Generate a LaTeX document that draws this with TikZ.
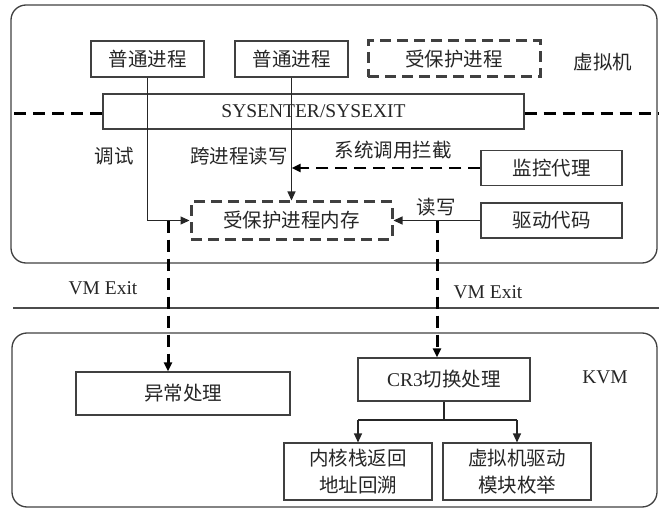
\documentclass[tikz,border=0pt]{standalone}
\usepackage{fontspec}
\setmainfont{Liberation Serif}
\newfontfamily\cjk{Noto Sans CJK SC}
\usetikzlibrary{arrows.meta}
\begin{document}
\begin{tikzpicture}[x=1pt,y=-1pt,
  every node/.style={font=\fontsize{19.5}{27}\selectfont, text=black!85, inner sep=0pt},
  box/.style={draw=black!75, line width=1.1pt, fill=white, align=center},
  dbox/.style={draw=black!75, line width=3pt, dash pattern=on 11pt off 6pt, fill=white},
  thinln/.style={draw=black!85, line width=1.1pt},
  tip/.style={-{Triangle[length=9pt,width=8pt]}},
  tdash/.style={draw=black, line width=3pt, dash pattern=on 12pt off 7pt},
  frame/.style={draw=black!75, line width=1.3pt, rounded corners=15pt}
]
\useasboundingbox (0,0) rectangle (659,508);
% frames
\draw[frame] (11,5) rectangle (657,263);
\draw[frame] (12,333) rectangle (657,507);
\draw[thinln, draw=black!70] (13,308) -- (659,308);

% dashed boundary lines at syscall level
\coordinate (dl) at (14,114);
\coordinate (dr) at (659,114);

% top nodes
\node[box, minimum width=113pt, minimum height=36pt] (p1) at (147.5,59) {\cjk 普通进程};
\node[box, minimum width=113pt, minimum height=36pt] (p2) at (291.5,59) {\cjk 普通进程};
\node[dbox, minimum width=172pt, minimum height=36pt] (pp) at (454,59) {\cjk 受保护进程};
\node (vmlab) at (603,62) {\cjk 虚拟机};

\node[box, minimum width=421pt, minimum height=35pt] (sys) at (313.5,111.5) {SYSENTER/SYSEXIT};
\draw[tdash] (dl) -- (dl -| sys.west);
\draw[tdash] (sys.east |- dr) -- (dr);

\node (dbg) at (114,156) {\cjk 调试};
\node (xrw) at (239,156) {\cjk 跨进程读写};
\node (sci) at (393,150) {\cjk 系统调用拦截};

\node[box, minimum width=141pt, minimum height=35pt] (mon) at (551.5,168) {\cjk 监控代理};
\node[dbox, minimum width=201pt, minimum height=37pt] (mem) at (291.5,220.5) {\cjk 受保护进程内存};
\node[box, minimum width=141pt, minimum height=35pt] (drv) at (551.5,220.5) {\cjk 驱动代码};
\node (rw) at (436,207) {\cjk 读写};

% connectors in VM
\draw[thinln,tip] (p1.south) |- (mem.west);
\draw[thinln,tip] (p2.south) -- (mem.north);
\draw[tdash,line width=2.6pt,tip] (mon.west) -- (p2.south |- mon.west);
\draw[thinln,tip] (drv.west) -- (mem.east);

% KVM nodes
\node[box, minimum width=214pt, minimum height=43pt] (ex) at (183,393.5) {\cjk 异常处理};
\node[box, minimum width=172pt, minimum height=43pt] (cr3) at (444,379.5) {CR3{\cjk 切换处理}};
\node (kvm) at (605,377) {KVM};
\node[box, minimum width=148pt, minimum height=57pt] (kst) at (358,471.5) {\cjk 内核栈返回\\\cjk 地址回溯};
\node[box, minimum width=148pt, minimum height=57pt] (enum) at (517,471.5) {\cjk 虚拟机驱动\\\cjk 模块枚举};

\node (vmx1) at (103,288) {VM Exit};
\node (vmx2) at (488,292) {VM Exit};

% VM exit arrows
\coordinate (l1) at (168,220.5);
\coordinate (r1) at (437,220.5);
\draw[tdash,tip] (l1) -- (l1 |- ex.north);
\draw[tdash,tip] (r1) -- (r1 |- cr3.north);

% tree
\coordinate (t0) at (444,420);
\draw[thinln] (cr3.south) -- (t0);
\draw[thinln] (kst.north |- t0) -- (enum.north |- t0);
\draw[thinln,tip] (kst.north |- t0) -- (kst.north);
\draw[thinln,tip] (enum.north |- t0) -- (enum.north);
\end{tikzpicture}
\end{document}
